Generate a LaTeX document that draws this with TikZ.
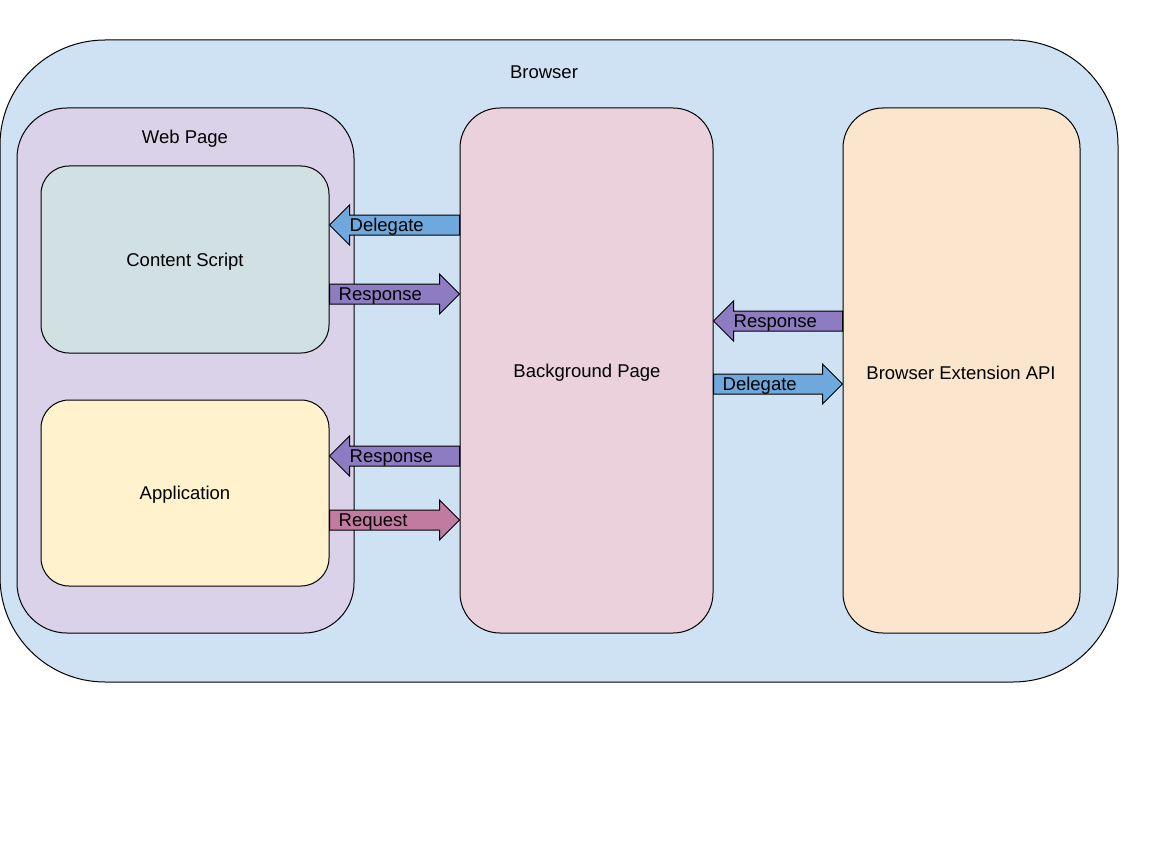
\documentclass[tikz,border=0pt]{standalone}
\usepackage{fontspec}
\setmainfont{Liberation Sans}
\usetikzlibrary{calc}
\definecolor{browserc}{HTML}{CFE2F3}
\definecolor{webc}{HTML}{D9D2E9}
\definecolor{csc}{HTML}{D0E0E3}
\definecolor{appc}{HTML}{FFF2CC}
\definecolor{bgc}{HTML}{EAD1DC}
\definecolor{apic}{HTML}{FCE5CD}
\definecolor{delc}{HTML}{6FA8DC}
\definecolor{resc}{HTML}{8E7CC3}
\definecolor{reqc}{HTML}{C27BA0}
\tikzset{
  box/.style={draw=black, line width=1pt, inner sep=0pt},
  lbl/.style={inner sep=0pt, yshift=-2pt, font=\fontsize{18.5}{22}\selectfont},
  barrow/.style={draw=black, line width=1pt, line join=miter},
}
% right-pointing block arrow: tail coordinate #1, tip coordinate #2, colour #3, label #4, name #5
\newcommand\rblock[5]{%
  \draw[barrow, fill=#3] ($(#1)+(0,-10)$) -- ($(#2)+(-20,-10)$) -- ($(#2)+(-20,-20)$) -- (#2)
     -- ($(#2)+(-20,20)$) -- ($(#2)+(-20,10)$) -- ($(#1)+(0,10)$) -- cycle;
  \node[lbl, anchor=west] (#5) at ($(#1)+(9,0)$) {#4};}
% left-pointing block arrow
\newcommand\lblock[5]{%
  \draw[barrow, fill=#3] ($(#1)+(0,-10)$) -- ($(#2)+(20,-10)$) -- ($(#2)+(20,-20)$) -- (#2)
     -- ($(#2)+(20,20)$) -- ($(#2)+(20,10)$) -- ($(#1)+(0,10)$) -- cycle;
  \node[lbl, anchor=west] (#5) at ($(#2)+(20,0)$) {#4};}
\begin{document}
\begin{tikzpicture}[x=1pt, y=-1pt]
\useasboundingbox (0,0) rectangle (1152,864);
\node[box, fill=browserc, rounded corners=105pt, minimum width=1118pt, minimum height=642pt] (browser) at (559,361) {};
\node[lbl] (browserlbl) at (544,70) {Browser};
\node[box, fill=webc, rounded corners=50pt, minimum width=337pt, minimum height=525pt] (web) at (185.5,370.5) {};
\node[lbl] (weblbl) at (185,137) {Web Page};
\node[box, fill=csc, rounded corners=28pt, minimum width=288pt, minimum height=187pt] (cs) at (185,259.5) {};
\node[lbl] (cslbl) at (185,260) {Content Script};
\node[box, fill=appc, rounded corners=28pt, minimum width=288pt, minimum height=186pt] (app) at (185,493) {};
\node[lbl] (applbl) at (185,493) {Application};
\node[box, fill=bgc, rounded corners=40pt, minimum width=253pt, minimum height=525pt] (bg) at (586.5,370.5) {};
\node[lbl] (bglbl) at (587,371) {Background Page};
\node[box, fill=apic, rounded corners=40pt, minimum width=237pt, minimum height=525pt] (api) at (961.5,370.5) {};
\node[lbl] (apilbl) at (961,371) {Browser Extension API};
% arrow levels
\coordinate (y1) at (0,225);
\coordinate (y2) at (0,294);
\coordinate (y3) at (0,321);
\coordinate (y4) at (0,384);
\coordinate (y5) at (0,456);
\coordinate (y6) at (0,520);
\coordinate (a1t) at (bg.west |- y1);  \coordinate (a1p) at (cs.east |- y1);
\coordinate (a2t) at (cs.east |- y2);  \coordinate (a2p) at (bg.west |- y2);
\coordinate (a3t) at (api.west |- y3); \coordinate (a3p) at (bg.east |- y3);
\coordinate (a4t) at (bg.east |- y4);  \coordinate (a4p) at (api.west |- y4);
\coordinate (a5t) at (bg.west |- y5);  \coordinate (a5p) at (app.east |- y5);
\coordinate (a6t) at (app.east |- y6); \coordinate (a6p) at (bg.west |- y6);
\lblock{a1t}{a1p}{delc}{Delegate}{l1}
\rblock{a2t}{a2p}{resc}{Response}{l2}
\lblock{a3t}{a3p}{resc}{Response}{l3}
\rblock{a4t}{a4p}{delc}{Delegate}{l4}
\lblock{a5t}{a5p}{resc}{Response}{l5}
\rblock{a6t}{a6p}{reqc}{Request}{l6}
\end{tikzpicture}
\end{document}
